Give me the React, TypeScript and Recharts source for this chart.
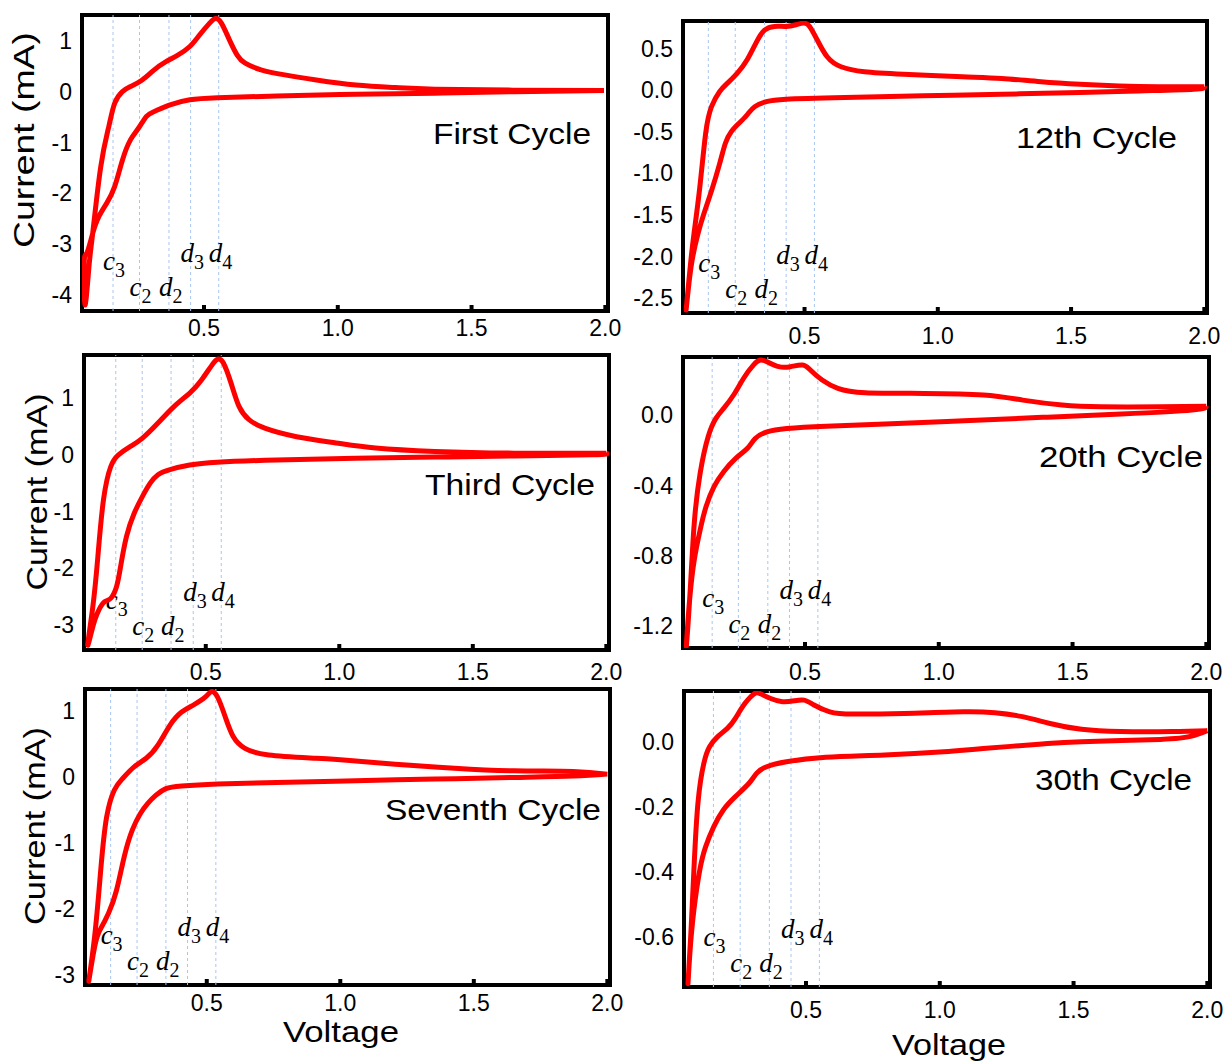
import React from 'react';
import { LineChart, Line, XAxis, YAxis, ReferenceLine, ReferenceArea } from 'recharts';

// shared axis values
const voltageDomain: [number, number] = [0.044, 2.01];
const voltageTicks = [0.5, 1.0, 1.5, 2.0];
const markerLetters = ['c', 'c', 'd', 'd', 'd'];
const markerSubs = ['3', '2', '2', '3', '4'];

const cycleTitles = ['First Cycle', '12th Cycle', 'Third Cycle', '20th Cycle', 'Seventh Cycle', '30th Cycle'];

// [voltage, current]: cathodic sweep from 2.0 V down, then anodic back up
const firstLoop: [number, number][] = [
  [1.995, 0.025], [1.66, 0.0], [1.363, -0.03], [1.068, -0.05], [0.772, -0.085], [0.55, -0.12],
  [0.447, -0.16], [0.373, -0.26], [0.314, -0.39], [0.284, -0.49], [0.255, -0.72], [0.225, -0.95],
  [0.195, -1.35], [0.166, -1.87], [0.136, -2.2], [0.107, -2.46], [0.084, -2.79], [0.062, -3.18],
  [0.052, -3.4], [0.055, -4.2], [0.07, -3.45], [0.084, -2.79], [0.114, -1.48], [0.144, -0.69],
  [0.166, -0.23], [0.195, 0.0], [0.225, 0.1], [0.269, 0.23], [0.314, 0.43], [0.358, 0.59],
  [0.402, 0.72], [0.447, 0.89], [0.484, 1.12], [0.521, 1.35], [0.543, 1.44], [0.565, 1.35],
  [0.595, 1.02], [0.624, 0.72], [0.654, 0.56], [0.713, 0.43], [0.802, 0.33], [0.92, 0.23],
  [1.068, 0.13], [1.216, 0.08], [1.363, 0.05], [1.66, 0.03], [1.995, 0.025],
];
const twelfthLoop: [number, number][] = [
  [2.0, 0.04], [1.96, 0.01], [1.754, -0.01], [1.534, -0.03], [1.24, -0.05], [0.945, -0.07],
  [0.651, -0.09], [0.431, -0.11], [0.357, -0.14], [0.313, -0.2], [0.284, -0.3], [0.254, -0.4],
  [0.225, -0.5], [0.203, -0.64], [0.181, -0.89], [0.151, -1.21], [0.122, -1.49], [0.1, -1.73],
  [0.078, -2.05], [0.063, -2.42], [0.056, -2.63], [0.071, -2.13], [0.085, -1.73], [0.107, -1.17],
  [0.129, -0.52], [0.151, -0.2], [0.181, -0.02], [0.21, 0.08], [0.247, 0.2], [0.284, 0.36],
  [0.32, 0.58], [0.35, 0.72], [0.387, 0.765], [0.431, 0.765], [0.468, 0.785], [0.497, 0.805],
  [0.519, 0.765], [0.548, 0.6], [0.585, 0.4], [0.637, 0.28], [0.725, 0.22], [0.872, 0.19],
  [1.092, 0.16], [1.24, 0.14], [1.387, 0.1], [1.534, 0.07], [1.68, 0.05], [1.828, 0.04], [2.0, 0.04],
];
const thirdLoop: [number, number][] = [
  [2.0, 0.03], [1.95, 0.0], [1.654, -0.02], [1.358, -0.04], [1.062, -0.06], [0.766, -0.09],
  [0.543, -0.13], [0.44, -0.18], [0.366, -0.26], [0.321, -0.35], [0.292, -0.5], [0.262, -0.74],
  [0.232, -1.03], [0.203, -1.44], [0.181, -1.97], [0.166, -2.32], [0.144, -2.53], [0.121, -2.59],
  [0.099, -2.74], [0.077, -3.03], [0.058, -3.35], [0.077, -2.68], [0.096, -1.79], [0.117, -0.79],
  [0.144, -0.21], [0.173, 0.0], [0.218, 0.15], [0.262, 0.29], [0.321, 0.56], [0.381, 0.85],
  [0.44, 1.09], [0.484, 1.32], [0.529, 1.62], [0.548, 1.69], [0.566, 1.62], [0.595, 1.26],
  [0.625, 0.85], [0.662, 0.62], [0.721, 0.47], [0.84, 0.32], [0.988, 0.21], [1.136, 0.12],
  [1.358, 0.06], [1.654, 0.03], [2.0, 0.03],
];
const twentiethLoop: [number, number][] = [
  [2.0, 0.05], [1.946, 0.028], [1.682, 0.006], [1.388, -0.013], [1.094, -0.032], [0.799, -0.051],
  [0.579, -0.063], [0.432, -0.076], [0.358, -0.095], [0.314, -0.133], [0.285, -0.189], [0.241, -0.246],
  [0.196, -0.322], [0.16, -0.407], [0.13, -0.521], [0.108, -0.653], [0.086, -0.824], [0.071, -1.013],
  [0.061, -1.203], [0.057, -1.307], [0.071, -0.994], [0.086, -0.616], [0.108, -0.331], [0.138, -0.123],
  [0.167, -0.019], [0.196, 0.038], [0.233, 0.114], [0.27, 0.208], [0.307, 0.284], [0.333, 0.313],
  [0.358, 0.303], [0.402, 0.275], [0.446, 0.275], [0.491, 0.284], [0.52, 0.256], [0.564, 0.199],
  [0.623, 0.152], [0.726, 0.127], [0.946, 0.123], [1.167, 0.114], [1.314, 0.085], [1.461, 0.057],
  [1.608, 0.047], [1.829, 0.047], [2.0, 0.05],
];
const seventhLoop: [number, number][] = [
  [2.0, 0.04], [1.872, 0.01], [1.65, -0.01], [1.354, -0.035], [1.058, -0.06], [0.762, -0.086],
  [0.54, -0.11], [0.406, -0.14], [0.347, -0.18], [0.31, -0.28], [0.28, -0.4], [0.251, -0.56],
  [0.221, -0.81], [0.191, -1.21], [0.162, -1.72], [0.132, -2.07], [0.103, -2.3], [0.08, -2.58],
  [0.058, -3.1], [0.08, -2.42], [0.103, -1.41], [0.125, -0.61], [0.154, -0.2], [0.184, -0.03],
  [0.228, 0.15], [0.273, 0.28], [0.317, 0.48], [0.362, 0.78], [0.406, 0.98], [0.451, 1.09],
  [0.495, 1.21], [0.517, 1.29], [0.54, 1.21], [0.569, 0.91], [0.599, 0.61], [0.643, 0.43],
  [0.732, 0.33], [0.91, 0.28], [1.058, 0.24], [1.206, 0.19], [1.428, 0.13], [1.65, 0.09],
  [1.872, 0.08], [2.0, 0.04],
];
const thirtiethLoop: [number, number][] = [
  [2.0, 0.034], [1.941, 0.017], [1.824, 0.007], [1.53, 0.0], [1.383, -0.007], [1.162, -0.021],
  [1.015, -0.031], [0.794, -0.041], [0.574, -0.048], [0.427, -0.062], [0.353, -0.077], [0.316, -0.097],
  [0.287, -0.128], [0.236, -0.169], [0.191, -0.21], [0.155, -0.262], [0.125, -0.323], [0.103, -0.395],
  [0.081, -0.518], [0.066, -0.651], [0.059, -0.744], [0.069, -0.6], [0.081, -0.395], [0.096, -0.19],
  [0.118, -0.067], [0.14, -0.015], [0.169, 0.015], [0.206, 0.041], [0.236, 0.072], [0.272, 0.118],
  [0.309, 0.149], [0.331, 0.147], [0.368, 0.133], [0.412, 0.123], [0.456, 0.126], [0.493, 0.128],
  [0.53, 0.113], [0.589, 0.092], [0.677, 0.085], [0.868, 0.087], [1.089, 0.092], [1.206, 0.089],
  [1.309, 0.077], [1.412, 0.056], [1.53, 0.038], [1.677, 0.031], [1.868, 0.031], [2.0, 0.034],
];

// current axis ranges and ticks
const firstRange: [number, number] = [-4.32, 1.51];
const firstTicks = [-4, -3, -2, -1, 0, 1];
const twelfthRange: [number, number] = [-2.68, 0.83];
const twelfthTicks = [-2.5, -2.0, -1.5, -1.0, -0.5, 0.0, 0.5];
const thirdRange: [number, number] = [-3.44, 1.76];
const thirdTicks = [-3, -2, -1, 0, 1];
const twentiethRange: [number, number] = [-1.324, 0.33];
const twentiethTicks = [-1.2, -0.8, -0.4, 0.0];
const seventhRange: [number, number] = [-3.156, 1.33];
const seventhTicks = [-3, -2, -1, 0, 1];
const thirtiethRange: [number, number] = [-0.755, 0.156];
const thirtiethTicks = [-0.6, -0.4, -0.2, 0.0];

// voltage of the dashed peak guides c3, c2, d2, d3, d4
const firstMarks = [0.16, 0.259, 0.369, 0.45, 0.555];
const twelfthMarks = [0.139, 0.24, 0.35, 0.431, 0.537];
const thirdMarks = [0.163, 0.262, 0.37, 0.453, 0.558];
const twentiethMarks = [0.153, 0.251, 0.361, 0.442, 0.548];
const seventhMarks = [0.14, 0.239, 0.347, 0.428, 0.534];
const thirtiethMarks = [0.154, 0.254, 0.363, 0.444, 0.55];

const SANS = '"Liberation Sans", Arial, Helvetica, sans-serif';
const SERIF = '"Liberation Serif", "DejaVu Serif", serif';
const RED = '#ff0000';
const GUIDE = '#a9c5f0';
const markerLift = [41, 15, 15, 49, 49];

const panels = [
  { loop: firstLoop, range: firstRange, ticks: firstTicks, marks: firstMarks, digits: 0,
    box: { left: 82, top: 15, width: 526, height: 296 }, tickGap: 17, title: { end: 591, base: 144, len: 158 } },
  { loop: twelfthLoop, range: twelfthRange, ticks: twelfthTicks, marks: twelfthMarks, digits: 1,
    box: { left: 683, top: 21, width: 524, height: 292 }, tickGap: 23, title: { end: 1177, base: 148, len: 161 } },
  { loop: thirdLoop, range: thirdRange, ticks: thirdTicks, marks: thirdMarks, digits: 0,
    box: { left: 84, top: 355, width: 525, height: 295 }, tickGap: 22, title: { end: 595, base: 495, len: 170 } },
  { loop: twentiethLoop, range: twentiethRange, ticks: twentiethTicks, marks: twentiethMarks, digits: 1,
    box: { left: 683, top: 357, width: 526, height: 291 }, tickGap: 24, title: { end: 1203, base: 467, len: 164 } },
  { loop: seventhLoop, range: seventhRange, ticks: seventhTicks, marks: seventhMarks, digits: 0,
    box: { left: 85, top: 689, width: 525, height: 296 }, tickGap: 18, title: { end: 601, base: 820, len: 216 } },
  { loop: thirtiethLoop, range: thirtiethRange, ticks: thirtiethTicks, marks: thirtiethMarks, digits: 1,
    box: { left: 684, top: 691, width: 526, height: 296 }, tickGap: 23, title: { end: 1192, base: 790, len: 157 } },
];

// y labels on the left column, "Voltage" under the bottom row
const currentLabels = [
  { cx: 34, cy: 140, len: 216 },
  { cx: 47, cy: 492, len: 197 },
  { cx: 45, cy: 826, len: 198 },
];
const voltageLabels = [
  { cx: 341, base: 1042, len: 116 },
  { cx: 949, base: 1055, len: 114 },
];

const PAD_L = 70;
const PAD_T = 6;
const PAD_R = 24;
const PAD_B = 44;

const VoltTick = (props: any) => {
  const { x, y, payload, gap } = props;
  return (
    <g>
      <line x1={x} x2={x} y1={y - 1} y2={y - 6} stroke="#000" strokeWidth={4} />
      <text x={x} y={y + gap} dy="0.36em" textAnchor="middle" fontSize={23} fill="#000" fontFamily={SANS}>
        {Number(payload.value).toFixed(1)}
      </text>
    </g>
  );
};

const MarkerLabel = ({ viewBox, idx }: { viewBox: any; idx: number }) => {
  if (!viewBox) return null;
  const x = viewBox.x - 10;
  const y = viewBox.y + viewBox.height - markerLift[idx];
  return (
    <text x={x} y={y} fontFamily={SERIF} fill="#000">
      <tspan fontSize={27} fontStyle="italic">{markerLetters[idx]}</tspan>
      <tspan fontSize={20} dy={7}>{markerSubs[idx]}</tspan>
    </text>
  );
};

const CvPanel = ({ panel }: { panel: (typeof panels)[number] }) => {
  const { loop, range, ticks, marks, digits, box, tickGap } = panel;
  const rows = loop.map(([v, i]) => ({ v, i }));
  return (
    <div style={{ position: 'absolute', left: box.left - PAD_L, top: box.top - PAD_T }}>
      <LineChart
        width={box.width + PAD_L + PAD_R}
        height={box.height + PAD_T + PAD_B}
        data={rows}
        margin={{ top: PAD_T, right: PAD_R, left: 0, bottom: 0 }}
      >
        <XAxis
          type="number"
          dataKey="v"
          domain={voltageDomain}
          ticks={voltageTicks}
          interval={0}
          allowDataOverflow
          height={PAD_B}
          axisLine={false}
          tickLine={false}
          tickSize={0}
          tickMargin={0}
          tick={(p: any) => <VoltTick {...p} gap={tickGap} />}
        />
        <YAxis
          type="number"
          domain={range}
          ticks={ticks}
          interval={0}
          allowDataOverflow
          width={PAD_L}
          axisLine={false}
          tickLine={false}
          tickSize={0}
          tickMargin={10}
          tickFormatter={(t: number) => t.toFixed(digits)}
          tick={{ fontSize: 23, fill: '#000', fontFamily: SANS }}
        />
        {marks.map((m, k) => (
          <ReferenceLine
            key={k}
            x={m}
            stroke={GUIDE}
            strokeWidth={1}
            strokeDasharray="3 3"
            label={(lp: any) => <MarkerLabel viewBox={lp.viewBox} idx={k} />}
          />
        ))}
        <ReferenceArea
          x1={voltageDomain[0]}
          x2={voltageDomain[1]}
          y1={range[0]}
          y2={range[1]}
          fill="none"
          fillOpacity={0}
          stroke="#000"
          strokeWidth={4}
          ifOverflow="visible"
        />
        <Line
          dataKey="i"
          type="natural"
          stroke={RED}
          strokeWidth={5}
          dot={false}
          activeDot={false}
          isAnimationActive={false}
        />
      </LineChart>
    </div>
  );
};

const Captions = () => (
  <svg width={1224} height={1061} style={{ position: 'absolute', left: 0, top: 0, pointerEvents: 'none' }}>
    {panels.map((p, k) => (
      <text
        key={k}
        x={p.title.end - p.title.len}
        y={p.title.base}
        textLength={p.title.len}
        lengthAdjust="spacingAndGlyphs"
        fontSize={30}
        fontFamily={SANS}
        fill="#000"
      >
        {cycleTitles[k]}
      </text>
    ))}
    {currentLabels.map((c, k) => (
      <text
        key={k}
        transform={`translate(${c.cx},${c.cy}) rotate(-90)`}
        x={-c.len / 2}
        y={0}
        textLength={c.len}
        lengthAdjust="spacingAndGlyphs"
        fontSize={30}
        fontFamily={SANS}
        fill="#000"
      >
        Current (mA)
      </text>
    ))}
    {voltageLabels.map((c, k) => (
      <text
        key={k}
        x={c.cx - c.len / 2}
        y={c.base}
        textLength={c.len}
        lengthAdjust="spacingAndGlyphs"
        fontSize={30}
        fontFamily={SANS}
        fill="#000"
      >
        Voltage
      </text>
    ))}
  </svg>
);

export default function App() {
  return (
    <div style={{ position: 'absolute', left: 0, top: 0, width: 1224, height: 1061, background: '#fff', overflow: 'hidden' }}>
      {panels.map((p, k) => (
        <CvPanel key={k} panel={p} />
      ))}
      <Captions />
    </div>
  );
}
